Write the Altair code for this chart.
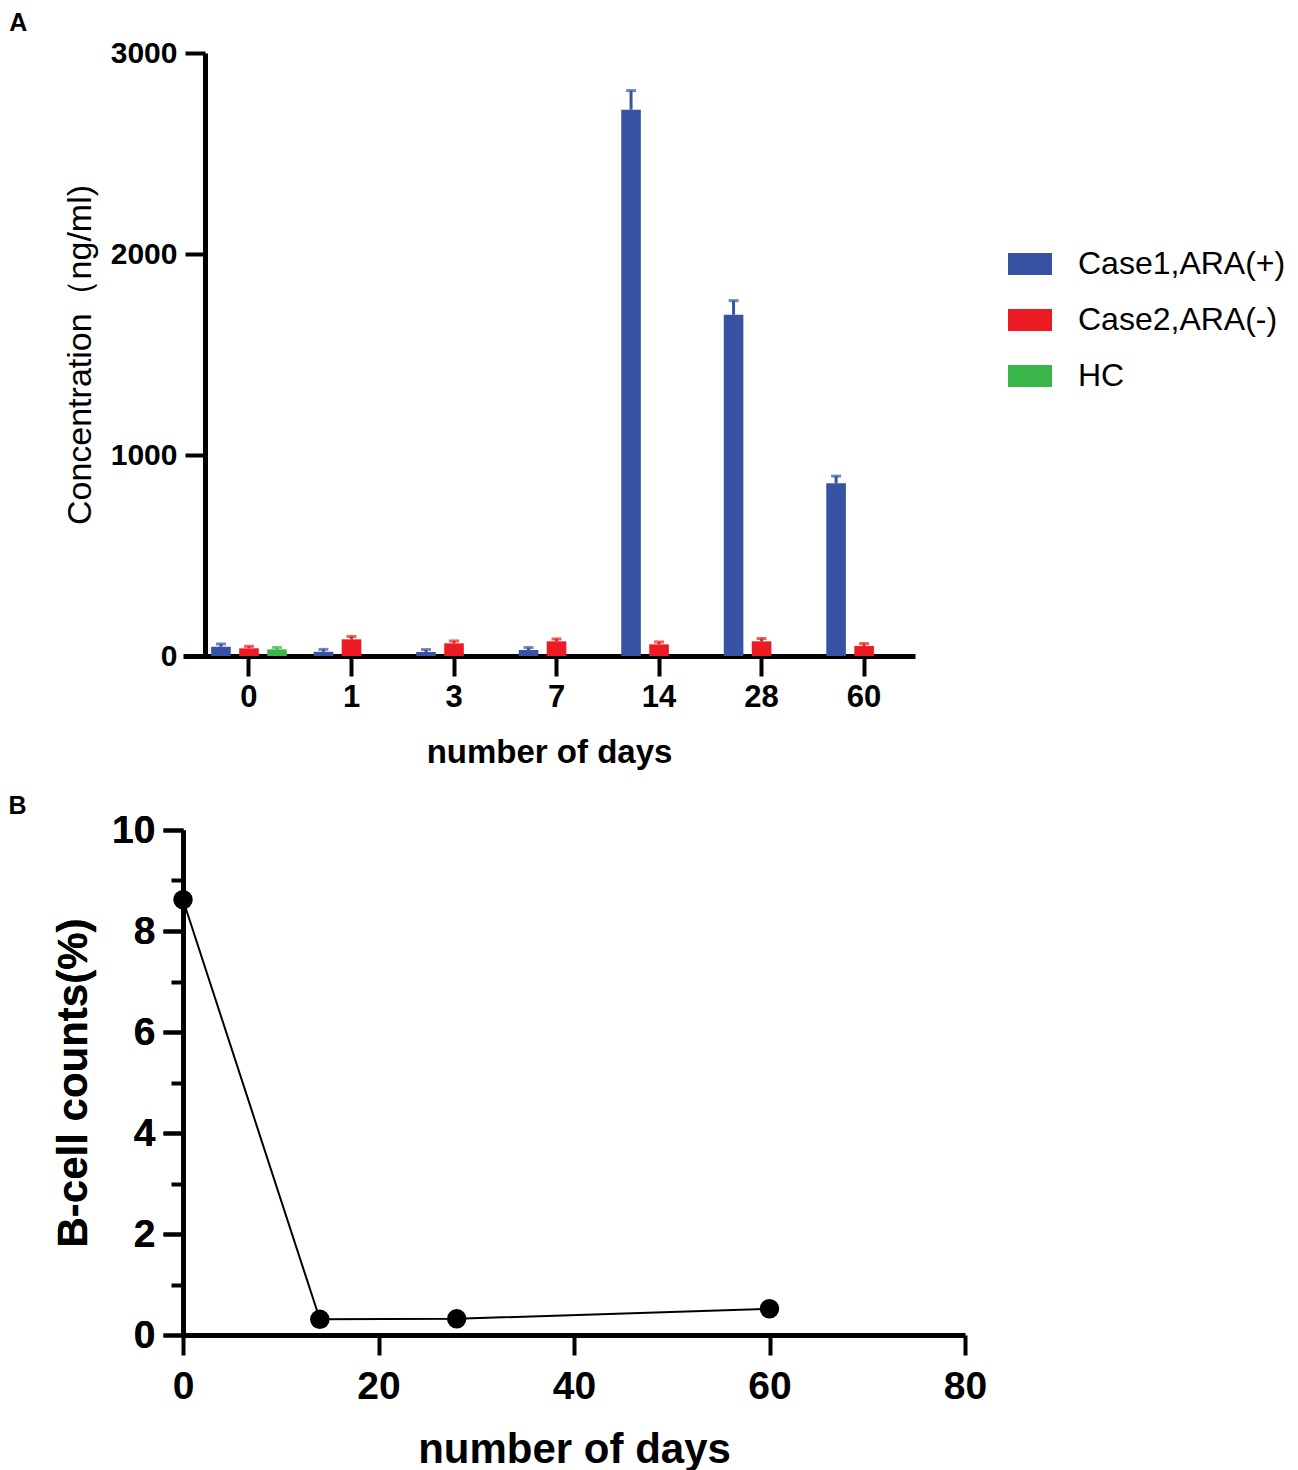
import altair as alt
import pandas as pd

FONT = "Liberation Sans"

# ---------------- Panel A data ----------------
days = ["0", "1", "3", "7", "14", "28", "60"]
groups = ["Case1,ARA(+)", "Case2,ARA(-)", "HC"]
colors = ["#3953A4", "#ED1C24", "#39B54A"]

case1_mean = [46, 21, 20, 30, 2718, 1698, 860]
case1_err = [14, 12, 12, 12, 95, 70, 35]
case2_mean = [38, 83, 63, 73, 58, 73, 50]
case2_err = [10, 14, 12, 12, 12, 14, 12]
hc_days = ["0"]
hc_mean = [33]
hc_err = [10]

rows = []
for d, m, e in zip(days, case1_mean, case1_err):
    rows.append({"day": d, "group": groups[0], "mean": m, "hi": m + e})
for d, m, e in zip(days, case2_mean, case2_err):
    rows.append({"day": d, "group": groups[1], "mean": m, "hi": m + e})
for d, m, e in zip(hc_days, hc_mean, hc_err):
    rows.append({"day": d, "group": groups[2], "mean": m, "hi": m + e})
dfA = pd.DataFrame(rows)

# ---------------- Panel B data ----------------
b_days = [0, 14, 28, 60]
b_counts = [8.62, 0.31, 0.32, 0.52]
dfB = pd.DataFrame({"day": b_days, "count": b_counts})

# ---------------- Panel A ----------------
xA = alt.X(
    "day:N", sort=days,
    scale=alt.Scale(domain=days, paddingInner=0.18, paddingOuter=0.16, align=0.73),
    axis=alt.Axis(
        title="number of days", labelAngle=0,
        labelFont=FONT, labelFontSize=31, labelFontWeight="bold", labelColor="black",
        labelPadding=6,
        titleFont=FONT, titleFontSize=33, titleFontWeight="bold", titleColor="black",
        titlePadding=24,
        tickSize=20, tickWidth=4, tickColor="black",
        domainWidth=5, domainColor="black", grid=False,
    ),
)
xoA = alt.XOffset(
    "group:N", sort=groups,
    scale=alt.Scale(domain=groups, paddingInner=0.3, paddingOuter=0.15),
)
yAxisA = alt.Axis(
    title="Concentration（ng/ml)", values=[0, 1000, 2000, 3000], format="d",
    labelFont=FONT, labelFontSize=30, labelFontWeight="bold", labelColor="black",
    labelPadding=8, labelFlush=False,
    titleFont=FONT, titleFontSize=34, titleFontWeight="normal", titleColor="black",
    titlePadding=13, offset=-22,
    tickSize=20, tickWidth=4, tickColor="black",
    domainWidth=5, domainColor="black", grid=False,
)
yA = alt.Y("mean:Q", scale=alt.Scale(domain=[0, 3000]), axis=yAxisA)
colorScale = alt.Scale(domain=groups, range=colors)

bars = alt.Chart(dfA).mark_bar().encode(
    x=xA, xOffset=xoA, y=yA,
    color=alt.Color(
        "group:N", scale=colorScale, sort=groups,
        legend=alt.Legend(
            title=None, orient="none", legendX=825, legendY=189,
            symbolType="M-1,-0.5H1V0.5H-1Z", symbolSize=1936, symbolStrokeWidth=0,
            labelFont=FONT, labelFontSize=32, labelColor="black", labelOffset=26,
            labelLimit=0, rowPadding=18, padding=0,
        ),
    ),
)
errs = alt.Chart(dfA).mark_rule(strokeWidth=3).encode(
    x=xA, xOffset=xoA, y=yA, y2="hi:Q",
    color=alt.Color("group:N", scale=colorScale, legend=None),
)
caps = alt.Chart(dfA).mark_tick(thickness=3, size=10).encode(
    x=xA, xOffset=xoA, y=alt.Y("hi:Q", scale=alt.Scale(domain=[0, 3000]), axis=yAxisA),
    color=alt.Color("group:N", scale=colorScale, legend=None),
)

panelA = alt.layer(bars, errs, caps).properties(
    width=732, height=603,
    title=alt.TitleParams(
        text="A", anchor="start", font=FONT, fontSize=25, fontWeight="bold",
        color="black", dx=-54, offset=2,
    ),
)

# ---------------- Panel B ----------------
xB = alt.X(
    "day:Q", scale=alt.Scale(domain=[0, 80], nice=False),
    axis=alt.Axis(
        title="number of days", values=[0, 20, 40, 60, 80], labelFlush=False,
        labelFont=FONT, labelFontSize=39, labelFontWeight="bold", labelColor="black",
        labelPadding=12,
        titleFont=FONT, titleFontSize=42, titleFontWeight="bold", titleColor="black",
        titlePadding=23,
        tickSize=20, tickWidth=4, tickColor="black",
        domainWidth=5, domainColor="black", grid=False,
    ),
)
yB = alt.Y(
    "count:Q", scale=alt.Scale(domain=[0, 10], nice=False),
    axis=alt.Axis(
        title="B-cell counts(%)", values=[0, 2, 4, 6, 8, 10], labelFlush=False,
        labelFont=FONT, labelFontSize=39, labelFontWeight="bold", labelColor="black",
        labelPadding=8,
        titleFont=FONT, titleFontSize=42, titleFontWeight="bold", titleColor="black",
        titlePadding=16,
        tickSize=20, tickWidth=4, tickColor="black",
        domainWidth=5, domainColor="black", grid=False, orient="left",
    ),
)
minor_vals = [1, 3, 5, 7, 9]
yBminor = alt.Y(
    "count:Q", scale=alt.Scale(domain=[0, 10], nice=False),
    axis=alt.Axis(
        title=None, values=minor_vals, labels=False, domain=False,
        tickSize=12, tickWidth=4, tickColor="black", grid=False, orient="left",
    ),
)

lineB = alt.Chart(dfB).mark_line(color="black", strokeWidth=2).encode(x=xB, y=yB)
ptsB = alt.Chart(dfB).mark_circle(color="black", size=380, opacity=1).encode(x=xB, y=yB)
minorB = alt.Chart(dfB).mark_point(opacity=0).encode(x=xB, y=yBminor)

panelB = (
    alt.layer(lineB, ptsB, minorB)
    .resolve_axis(y="independent")
    .properties(
        width=782, height=505,
        title=alt.TitleParams(
            text="B", anchor="start", font=FONT, fontSize=25, fontWeight="bold",
            color="black", dx=-44, offset=-8,
        ),
    )
)

chart = (
    alt.vconcat(panelA, panelB, spacing=25)
    .properties(padding={"left": 0, "top": 3, "right": 0, "bottom": 0})
    .configure_view(stroke=None)
)

chart.save("out.html", embed_options={"renderer": "svg", "actions": False})
